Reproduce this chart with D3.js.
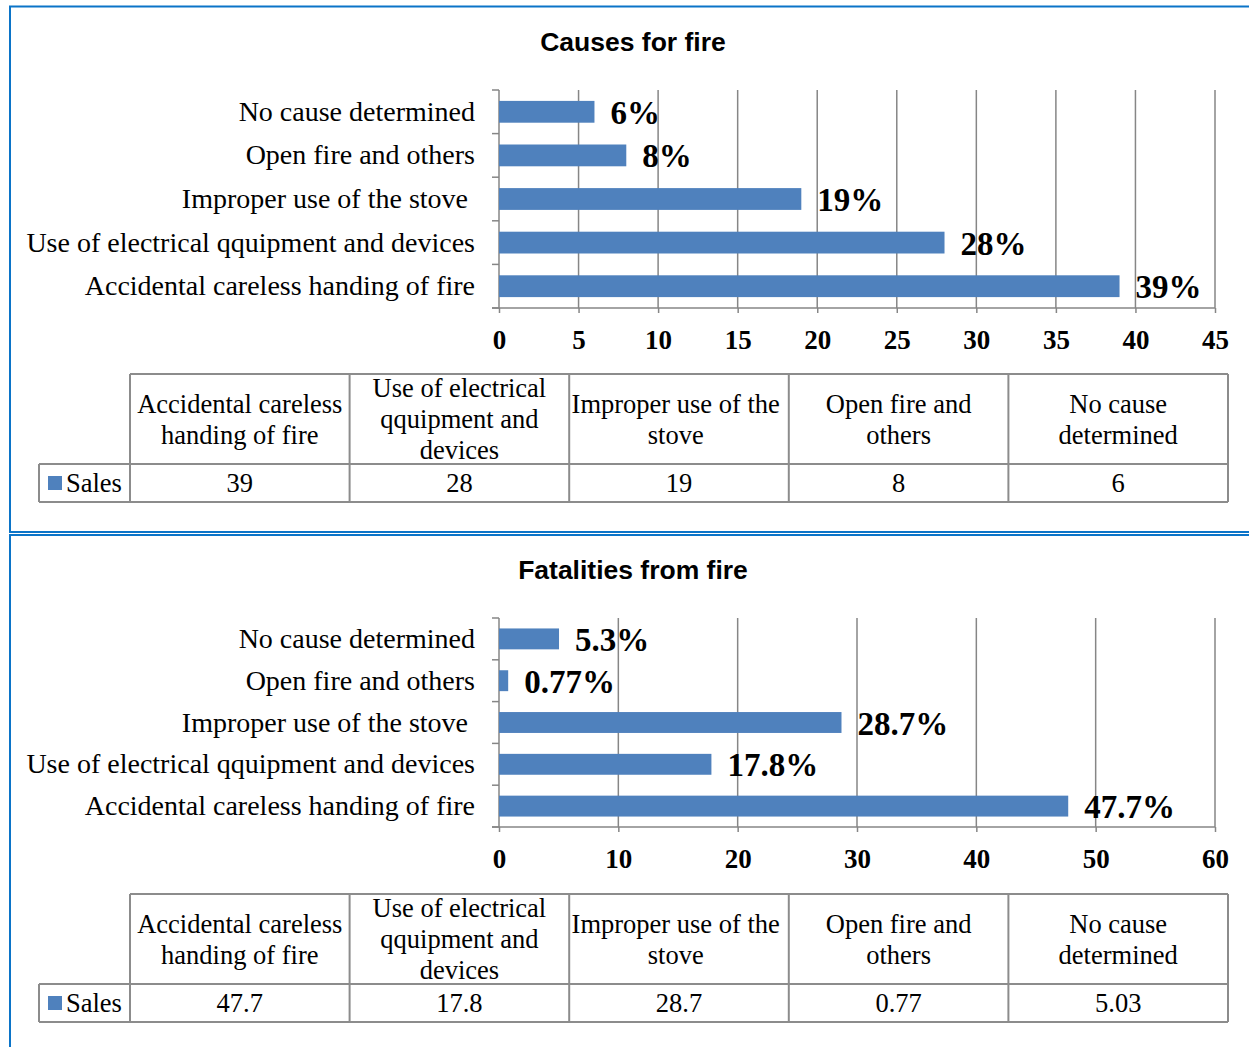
<!DOCTYPE html>
<html>
<head>
<meta charset="utf-8">
<script src="https://cdn.jsdelivr.net/npm/d3@7/dist/d3.min.js"></script>
<style>
  html, body { margin: 0; padding: 0; background: #fff; overflow: hidden; }
  svg { display: block; }
  text { white-space: pre; }
</style>
</head>
<body>
<svg id="chart" width="1249" height="1047"></svg>
<script>
// Categories, in table order (bottom bar first on the axis)
const categories = [
  "Accidental careless handing of fire",
  "Use of electrical qquipment and devices",
  "Improper use of the stove ",
  "Open fire and others",
  "No cause determined"
];
// Wrapped column headers for the data tables
const headerLines = [
  ["Accidental careless", "handing of fire"],
  ["Use of electrical", "qquipment and", "devices"],
  ["Improper use of the ", "stove "],
  ["Open fire and", "others"],
  ["No cause", "determined"]
];

// Causes for fire
const causesValues = [39, 28, 19, 8, 6];
const causesLabels = ["39%", "28%", "19%", "8%", "6%"];
const causesTicks = [0, 5, 10, 15, 20, 25, 30, 35, 40, 45];

// Fatalities from fire
const fatalValues = [47.7, 17.8, 28.7, 0.77, 5.03];
const fatalLabels = ["47.7%", "17.8%", "28.7%", "0.77%", "5.3%"];
const fatalTicks = [0, 10, 20, 30, 40, 50, 60];

const seriesName = "Sales";

const BAR = "#4F81BD";
const GRID = "#868686";
const FRAME = "#0B74C8";
const SERIF = "'Liberation Serif', 'Times New Roman', serif";
const SANS = "'Liberation Sans', Arial, sans-serif";

const svg = d3.select("#chart");

// Blue frames around each panel
svg.append("rect").attr("x", 10).attr("y", 6.5).attr("width", 1300).attr("height", 525.5)
  .attr("fill", "none").attr("stroke", FRAME).attr("stroke-width", 2);
svg.append("rect").attr("x", 10).attr("y", 535).attr("width", 1300).attr("height", 600)
  .attr("fill", "none").attr("stroke", FRAME).attr("stroke-width", 2);

function drawPanel(opt) {
  const g = svg.append("g");
  const { title, values, labels, ticks, top, bottom, titleY, tableTop } = opt;

  g.append("text").attr("x", 633).attr("y", titleY)
    .attr("text-anchor", "middle").attr("font-family", SANS)
    .attr("font-weight", "bold").attr("font-size", 26.5).text(title);

  const x = d3.scaleLinear().domain([0, ticks[ticks.length - 1]]).range([499, 1215]);
  const y = d3.scaleBand().domain(d3.range(categories.length).reverse())
    .range([top, bottom]).paddingInner(0.5).paddingOuter(0.25);
  const step = y.step();

  // vertical gridlines
  g.selectAll(".grid").data(ticks.slice(1)).join("line")
    .attr("x1", d => x(d)).attr("x2", d => x(d))
    .attr("y1", top).attr("y2", bottom)
    .attr("stroke", GRID).attr("stroke-width", 1.5);

  // bottom axis with tick marks and bold labels
  const xAxis = d3.axisBottom(x).tickValues(ticks).tickSize(5).tickFormat(d3.format("d"));
  const ax = g.append("g").attr("transform", `translate(0,${bottom})`).call(xAxis);
  ax.select(".domain").remove();
  ax.selectAll(".tick line").attr("stroke", GRID).attr("stroke-width", 1.5);
  ax.selectAll(".tick text").attr("font-family", SERIF).attr("font-weight", "bold")
    .attr("font-size", 27).attr("fill", "#000").attr("y", 41).attr("dy", null);
  g.append("line").attr("x1", 492).attr("x2", 1215).attr("y1", bottom).attr("y2", bottom)
    .attr("stroke", GRID).attr("stroke-width", 1.5);

  // left axis line with category boundary ticks
  g.append("line").attr("x1", 499).attr("x2", 499).attr("y1", top).attr("y2", bottom)
    .attr("stroke", GRID).attr("stroke-width", 1.5);
  g.selectAll(".ytick").data(d3.range(categories.length + 1)).join("line")
    .attr("x1", 492).attr("x2", 499)
    .attr("y1", i => top + i * step).attr("y2", i => top + i * step)
    .attr("stroke", GRID).attr("stroke-width", 1.5);

  // category labels
  g.selectAll(".cat").data(categories).join("text")
    .attr("x", 475).attr("y", (d, i) => y(i) + y.bandwidth() / 2 + 9)
    .attr("text-anchor", "end").attr("font-family", SERIF).attr("font-size", 28)
    .attr("fill", "#000").text(d => d);

  // bars
  g.selectAll(".bar").data(values).join("rect")
    .attr("x", x(0)).attr("y", (d, i) => y(i))
    .attr("width", d => x(d) - x(0)).attr("height", y.bandwidth())
    .attr("fill", BAR);

  // value labels
  g.selectAll(".val").data(values).join("text")
    .attr("x", d => x(d) + 16).attr("y", (d, i) => y(i) + y.bandwidth() / 2 + 12)
    .attr("font-family", SERIF).attr("font-weight", "bold").attr("font-size", 33)
    .attr("fill", "#000").text((d, i) => labels[i]);

  // data table
  const cols = d3.scaleBand().domain(d3.range(categories.length)).range([130, 1228]);
  const hdrBottom = tableTop + 90, rowBottom = tableTop + 128;
  const tbl = g.append("g").attr("stroke", "#8C8C8C").attr("stroke-width", 2).attr("fill", "none");
  tbl.append("line").attr("x1", 130).attr("x2", 1228).attr("y1", tableTop).attr("y2", tableTop);
  tbl.append("line").attr("x1", 39).attr("x2", 1228).attr("y1", hdrBottom).attr("y2", hdrBottom);
  tbl.append("line").attr("x1", 39).attr("x2", 1228).attr("y1", rowBottom).attr("y2", rowBottom);
  tbl.append("line").attr("x1", 39).attr("x2", 39).attr("y1", hdrBottom).attr("y2", rowBottom);
  tbl.selectAll(".vline").data(d3.range(categories.length + 1)).join("line")
    .attr("x1", i => 130 + i * cols.step()).attr("x2", i => 130 + i * cols.step())
    .attr("y1", tableTop).attr("y2", rowBottom);

  const hdrCenter = (tableTop + hdrBottom) / 2;
  headerLines.forEach((lines, i) => {
    const cx = cols(i) + cols.bandwidth() / 2;
    lines.forEach((ln, j) => {
      g.append("text").attr("x", cx)
        .attr("y", hdrCenter - (lines.length - 1) * 31 / 2 + j * 31 + 9)
        .attr("text-anchor", "middle").attr("font-family", SERIF).attr("font-size", 26.5)
        .attr("fill", "#000").text(ln);
    });
  });

  const rowCenter = (hdrBottom + rowBottom) / 2;
  g.selectAll(".cell").data(values).join("text")
    .attr("x", (d, i) => cols(i) + cols.bandwidth() / 2).attr("y", rowCenter + 9)
    .attr("text-anchor", "middle").attr("font-family", SERIF).attr("font-size", 26.5)
    .attr("fill", "#000").text(d => String(d));

  g.append("rect").attr("x", 48).attr("y", rowCenter - 7).attr("width", 14).attr("height", 14)
    .attr("fill", BAR);
  g.append("text").attr("x", 66).attr("y", rowCenter + 9)
    .attr("font-family", SERIF).attr("font-size", 26.5).attr("fill", "#000").text(seriesName);
}

drawPanel({
  title: "Causes for fire", values: causesValues, labels: causesLabels, ticks: causesTicks,
  top: 90, bottom: 308, titleY: 51, tableTop: 374
});
drawPanel({
  title: "Fatalities from fire", values: fatalValues, labels: fatalLabels, ticks: fatalTicks,
  top: 618, bottom: 827, titleY: 579, tableTop: 894
});
</script>
</body>
</html>
